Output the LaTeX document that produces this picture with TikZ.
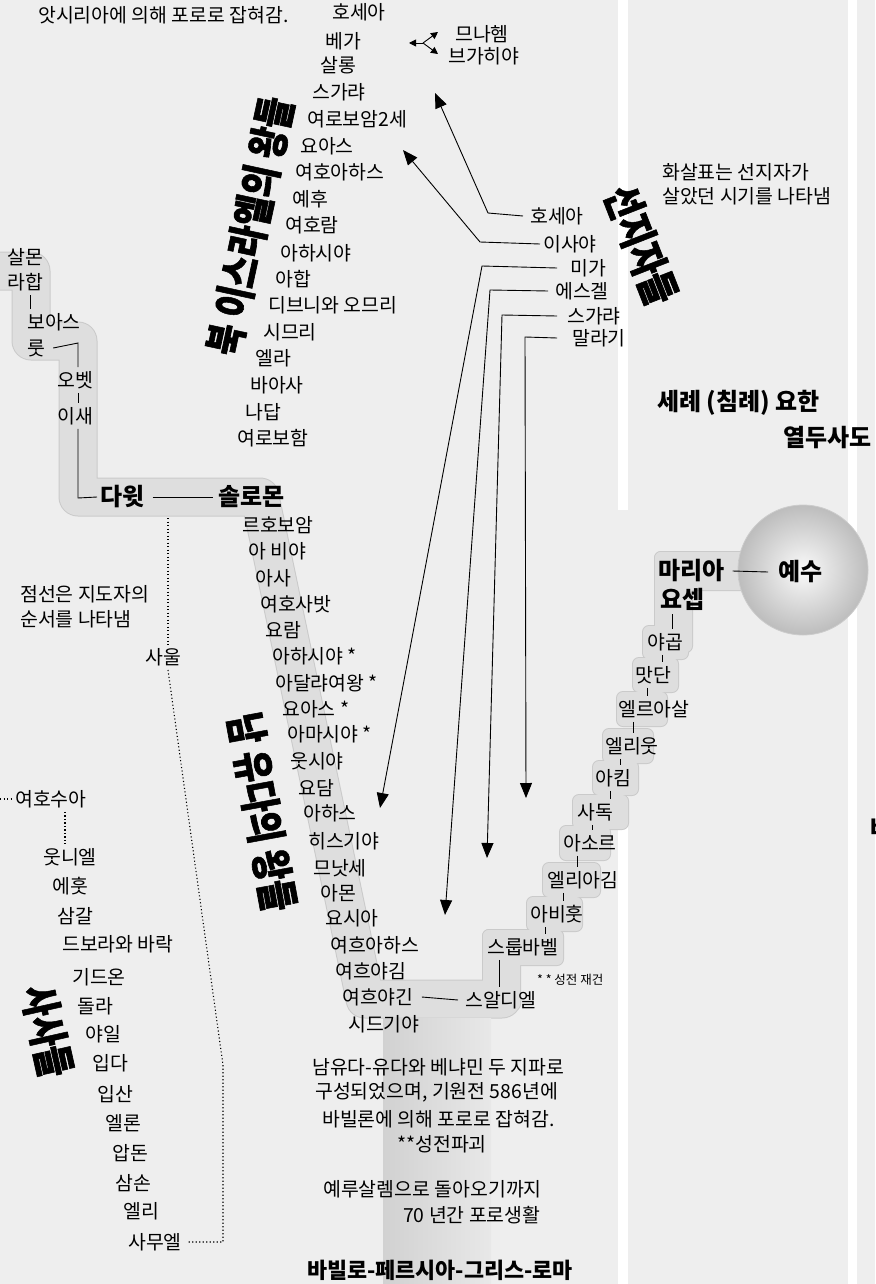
\documentclass[tikz,border=0pt]{standalone}
\usepackage{fontspec}
\setmainfont{Noto Sans CJK KR}
\usetikzlibrary{arrows.meta,calc}
\definecolor{bgc}{RGB}{238,238,238}
\definecolor{bandc}{RGB}{222,222,222}
\definecolor{bandedge}{RGB}{202,202,202}
\begin{document}
\begin{tikzpicture}[x=1pt,y=-1pt,
  nm/.style={anchor=west, inner xsep=0pt, inner ysep=4pt, font=\fontsize{19.4}{21}\selectfont},
  bnm/.style={nm, font=\fontsize{24}{26}\selectfont\bfseries},
  ttl/.style={inner sep=0pt, font=\fontsize{42}{44}\selectfont\bfseries\addfontfeatures{FakeBold=1.5}},
  ln/.style={line width=0.9pt, black},
  arr/.style={line width=0.9pt, -{Triangle[length=15pt,width=12pt]}},
  sarr/.style={line width=0.9pt, -{Triangle[length=7pt,width=7pt]}},
  dotl/.style={line width=1.1pt, dash pattern=on 1.1pt off 2.4pt}]
% background panels
\fill[bgc] (0,0) rectangle (875,1284);
\fill[white] (618,0) rectangle (628,510);
\fill[white] (618,790) rectangle (628,1284);
\fill[white] (848,0) rectangle (857,1284);
\useasboundingbox (0,0) rectangle (875,1284);
% left / central band
\draw[bandedge, line width=39pt, line join=round, line cap=round] (-40,271) -- (31,271) -- (31,341) -- (78,341) -- (78,497) -- (260,497) -- (365,999) -- (502,999);
\foreach \l/\t/\r/\b in {655/552/760/590, 655/552/692/652, 643/626/688/659, 633/658/678/692, 617/692/667/726, 603/729/653/763, 593/761/638/795, 573/795/628/829, 560/826/610/860, 543/863/600/897, 527/897/582/931, 483/930/563/965, 483/930/520/1010}
  \fill[bandedge, rounded corners=7] (\l-1,\t-1) rectangle (\r+1,\b+1);
\draw[bandc, line width=37pt, line join=round, line cap=round] (-40,271) -- (31,271) -- (31,341) -- (78,341) -- (78,497) -- (260,497) -- (365,999) -- (502,999);
\foreach \l/\t/\r/\b in {655/552/760/590, 655/552/692/652, 643/626/688/659, 633/658/678/692, 617/692/667/726, 603/729/653/763, 593/761/638/795, 573/795/628/829, 560/826/610/860, 543/863/600/897, 527/897/582/931, 483/930/563/965, 483/930/520/1010}
  \fill[bandc, rounded corners=6] (\l,\t) rectangle (\r,\b);
\shade[left color=black!18, right color=black!9] (383,1018) rectangle (491,1284);
% circle
\shade[inner color=black!2, outer color=black!26] (803,570) circle[radius=65];
\draw[black!20, line width=0.8pt] (803,570) circle[radius=65];

% titles
\node[ttl, rotate=77.8] (ntitle) at (250,226) {\scalebox{0.8}[1]{북 이스라엘의 왕들}};
\node[ttl, rotate=-79.6] (stitle) at (262,812) {\scalebox{0.8}[1]{남 유다의 왕들}};
\node[ttl, rotate=-68.6] (ptitle) at (641,245) {\scalebox{0.8}[1]{선지자들}};
\node[ttl, rotate=-77.4] (jtitle) at (47,1031) {\scalebox{0.8}[1]{사사들}};

% top note
\node[nm] (assyria) at (38,15) {앗시리아에 의해 포로로 잡혀감.};
% north kings
\node[nm] (k1) at (332,12.5) {호세아};
\node[nm] (k2) at (325,41) {베가};
\node[nm] (k3) at (320,65) {살롱};
\node[nm] (k4) at (312,92) {스가랴};
\node[nm] (k5) at (307,119) {여로보암2세};
\node[nm] (k6) at (300,146) {요아스};
\node[nm] (k7) at (295,172) {여호아하스};
\node[nm] (k8) at (292,199) {예후};
\node[nm] (k9) at (285,225) {여호람};
\node[nm] (k10) at (280,253) {아하시야};
\node[nm] (k11) at (275,279) {아합};
\node[nm] (k12) at (268,305) {디브니와 오므리};
\node[nm] (k13) at (263,332) {시므리};
\node[nm] (k14) at (255,358) {엘라};
\node[nm] (k15) at (250,385) {바아사};
\node[nm] (k16) at (245,412) {나답};
\node[nm] (k17) at (237,438) {여로보함};
\node[nm] (menahem) at (455,34) {므나헴};
\node[nm] (pekahiah) at (448,56) {브가히야};
\coordinate (fork) at (423,43);
\coordinate (fl) at (409,43);
\coordinate (fu) at (438,32);
\coordinate (fd) at (438,54);
\draw[sarr] (fork) -- (fl);
\draw[sarr] (fork) -- (fu);
\draw[sarr] (fork) -- (fd);

% south kings
\node[nm] (j1) at (242,525) {르호보암};
\node[nm] (j2) at (248,551) {아 비야};
\node[nm] (j3) at (255,578) {아사};
\node[nm] (j4) at (260,604) {여호사밧};
\node[nm] (j5) at (265,630) {요람};
\node[nm] (j6) at (272,656) {아하시야 *};
\node[nm] (j7) at (275,683) {아달랴여왕 *};
\node[nm] (j8) at (282,709) {요아스 *};
\node[nm] (j9) at (287,734) {아마시야 *};
\node[nm] (j10) at (290,761) {웃시야};
\node[nm] (j11) at (298,788) {요담};
\node[nm] (j12) at (303,813) {아하스};
\node[nm] (j13) at (308,841) {히스기야};
\node[nm] (j14) at (313,868) {므낫세};
\node[nm] (j15) at (320,893) {아몬};
\node[nm] (j16) at (325,918) {요시아};
\node[nm] (j17) at (330,945) {여흐아하스};
\node[nm] (j18) at (335,971) {여흐야김};
\node[nm] (j19) at (342,997) {여흐야긴};
\node[nm] (j20) at (348,1024) {시드기야};

% judges
\node[nm] (joshua) at (15,799) {여호수아};
\node[nm] (d1) at (43,857) {웃니엘};
\node[nm] (d2) at (52,886) {에훗};
\node[nm] (d3) at (57,916) {삼갈};
\node[nm] (d4) at (62,944) {드보라와 바락};
\node[nm] (d5) at (72,977) {기드온};
\node[nm] (d6) at (77,1006) {돌라};
\node[nm] (d7) at (85,1034) {야일};
\node[nm] (d8) at (92,1063) {입다};
\node[nm] (d9) at (97,1094) {입산};
\node[nm] (d10) at (105,1123) {엘론};
\node[nm] (d11) at (112,1153) {압돈};
\node[nm] (d12) at (115,1183) {삼손};
\node[nm] (d13) at (123,1211) {엘리};
\node[nm] (samuel) at (128,1242) {사무엘};
\node[nm] (saul) at (145,657) {사울};
\node[nm] (note1) at (20,594) {점선은 지도자의};
\node[nm] (note2) at (20,619) {순서를 나타냄};

% left lineage
\node[nm] (salmon) at (7,257) {살몬};
\node[nm] (rahab) at (7,282) {라합};
\node[nm] (boaz) at (27,322) {보아스};
\node[nm] (ruth) at (27,348) {룻};
\node[nm] (obed) at (57,380) {오벳};
\node[nm] (jesse) at (57,416) {이새};
\node[bnm] (david) at (100,497) {다윗};
\node[bnm] (solomon) at (218,497) {솔로몬};

% right lineage
\node[bnm] (mary) at (658,571) {마리아};
\node[bnm] (joseph) at (660,599) {요셉};
\node[bnm] (jesus) at (778,572) {예수};
\node[nm] (r1) at (647,642) {야곱};
\node[nm] (r2) at (635,675) {맛단};
\node[nm] (r3) at (618,709) {엘르아살};
\node[nm] (r4) at (605,746) {엘리웃};
\node[nm] (r5) at (595,778) {아킴};
\node[nm] (r6) at (577,812) {사독};
\node[nm] (r7) at (563,843) {아소르};
\node[nm] (r8) at (547,880) {엘리아김};
\node[nm] (r9) at (530,914) {아비훗};
\node[nm] (r10) at (487,947) {스룹바벨};
\node[nm] (shealtiel) at (465,1000) {스알디엘};
\node[anchor=west, inner sep=0pt, font=\fontsize{12.5}{13}\selectfont] (rebuild) at (537,980) {* * 성전 재건};

% prophets
\node[nm] (hosea) at (530,216) {호세아};
\node[nm] (isaiah) at (543,244) {이사야};
\node[nm] (micah) at (570,268) {미가};
\node[nm] (ezekiel) at (555,291) {에스겔};
\node[nm] (zech) at (567,316) {스가랴};
\node[nm] (malachi) at (572,338) {말라기};
\node[nm] (pnote1) at (662,172) {화살표는 선지자가};
\node[nm] (pnote2) at (662,196) {살았던 시기를 나타냄};
\node[bnm] (baptist) at (657,403) {세례 (침례) 요한};
\node[bnm] (apostles) at (783,438) {열두사도};
\node[bnm] (cut) at (870,829) {바};

% bottom text
\node[nm] (b1) at (312,1067) {남유다-유다와 베냐민 두 지파로};
\node[nm] (b2) at (315,1092) {구성되었으며, 기원전 586년에};
\node[nm] (b3) at (322,1119) {바빌론에 의해 포로로 잡혀감.};
\node[nm] (b4) at (397,1144) {**성전파괴};
\node[nm] (b5) at (323,1189) {예루살렘으로 돌아오기까지};
\node[nm] (b6) at (403,1215) {70 년간 포로생활};
\node[nm, font=\fontsize{21.8}{23}\selectfont\bfseries] (b7) at (307,1270) {바빌로-페르시아-그리스-로마};

% left lineage connectors
\draw[ln] (rahab.south -| 30,0) -- (boaz.north -| 30,0);
\coordinate (rb) at (78,343);
\draw[ln] ([xshift=8pt]ruth.east) -- (rb) -- (obed.north -| rb);
\draw[ln] (obed.south -| 78,0) -- (jesse.north -| 78,0);
\coordinate (jb) at (78,498);
\draw[ln] (jesse.south -| jb) -- (jb) -- ([xshift=-3pt]david.west);
\draw[ln] ([xshift=8pt]david.east) -- ([xshift=-5pt]solomon.west);

% right lineage connectors
\draw[ln] ([xshift=8pt]mary.east) -- ([xshift=-10pt]jesus.west);
\draw[ln] (joseph.south -| 672,0) -- (r1.north -| 672,0);
\draw[ln] (r1.south -| 662,0) -- (r2.north -| 662,0);
\draw[ln] (r2.south -| 647,0) -- (r3.north -| 647,0);
\draw[ln] (r3.south -| 633,0) -- (r4.north -| 633,0);
\draw[ln] (r4.south -| 620,0) -- (r5.north -| 620,0);
\draw[ln] (r5.south -| 610,0) -- (r6.north -| 610,0);
\draw[ln] (r6.south -| 592,0) -- (r7.north -| 592,0);
\draw[ln] (r7.south -| 577,0) -- (r8.north -| 577,0);
\draw[ln] (r8.south -| 563,0) -- (r9.north -| 563,0);
\draw[ln] (r9.south -| 545,0) -- (r10.north -| 545,0);
\draw[ln] (r10.south -| 499,0) -- (shealtiel.north -| 499,0);
\draw[ln] ([xshift=8pt]j19.east) -- ([xshift=-7pt]shealtiel.west);

% dotted leader line
\coordinate (dtop) at (168,518);
\coordinate (dk1) at (223,1065);
\coordinate (dk2) at (223,1242);
\draw[dotl] (dtop) -- (saul.north -| dtop);
\draw[dotl] (saul.south -| dtop) -- (dk1) -- (dk2) -- ([xshift=6pt]samuel.east);
\coordinate (jl) at (0,799);
\draw[dotl] (jl) -- ([xshift=-3pt]joshua.west);
\draw[dotl] (joshua.south -| 65,0) -- (d1.north -| 65,0);

% prophet arrows
\coordinate (hb) at (488,213); \coordinate (ht) at (435,93);
\draw[arr] ([xshift=-7pt]hosea.west) -- (hb) -- (ht);
\coordinate (ib) at (480,242); \coordinate (it) at (403,150);
\draw[arr] ([xshift=-3pt]isaiah.west) -- (ib) -- (it);
\coordinate (mb) at (482,266); \coordinate (mt) at (380,808);
\draw[arr] ([xshift=-13pt]micah.west) -- (mb) -- (mt);
\coordinate (eb) at (490,290); \coordinate (et) at (445,915);
\draw[arr] ([xshift=-7pt]ezekiel.west) -- (eb) -- (et);
\coordinate (zb) at (502,315); \coordinate (zt) at (487,858);
\draw[arr] ([xshift=-10pt]zech.west) -- (zb) -- (zt);
\coordinate (lb) at (525,337); \coordinate (lt) at (526,798);
\draw[arr] ([xshift=-15pt]malachi.west) -- (lb) -- (lt);
\end{tikzpicture}
\end{document}
